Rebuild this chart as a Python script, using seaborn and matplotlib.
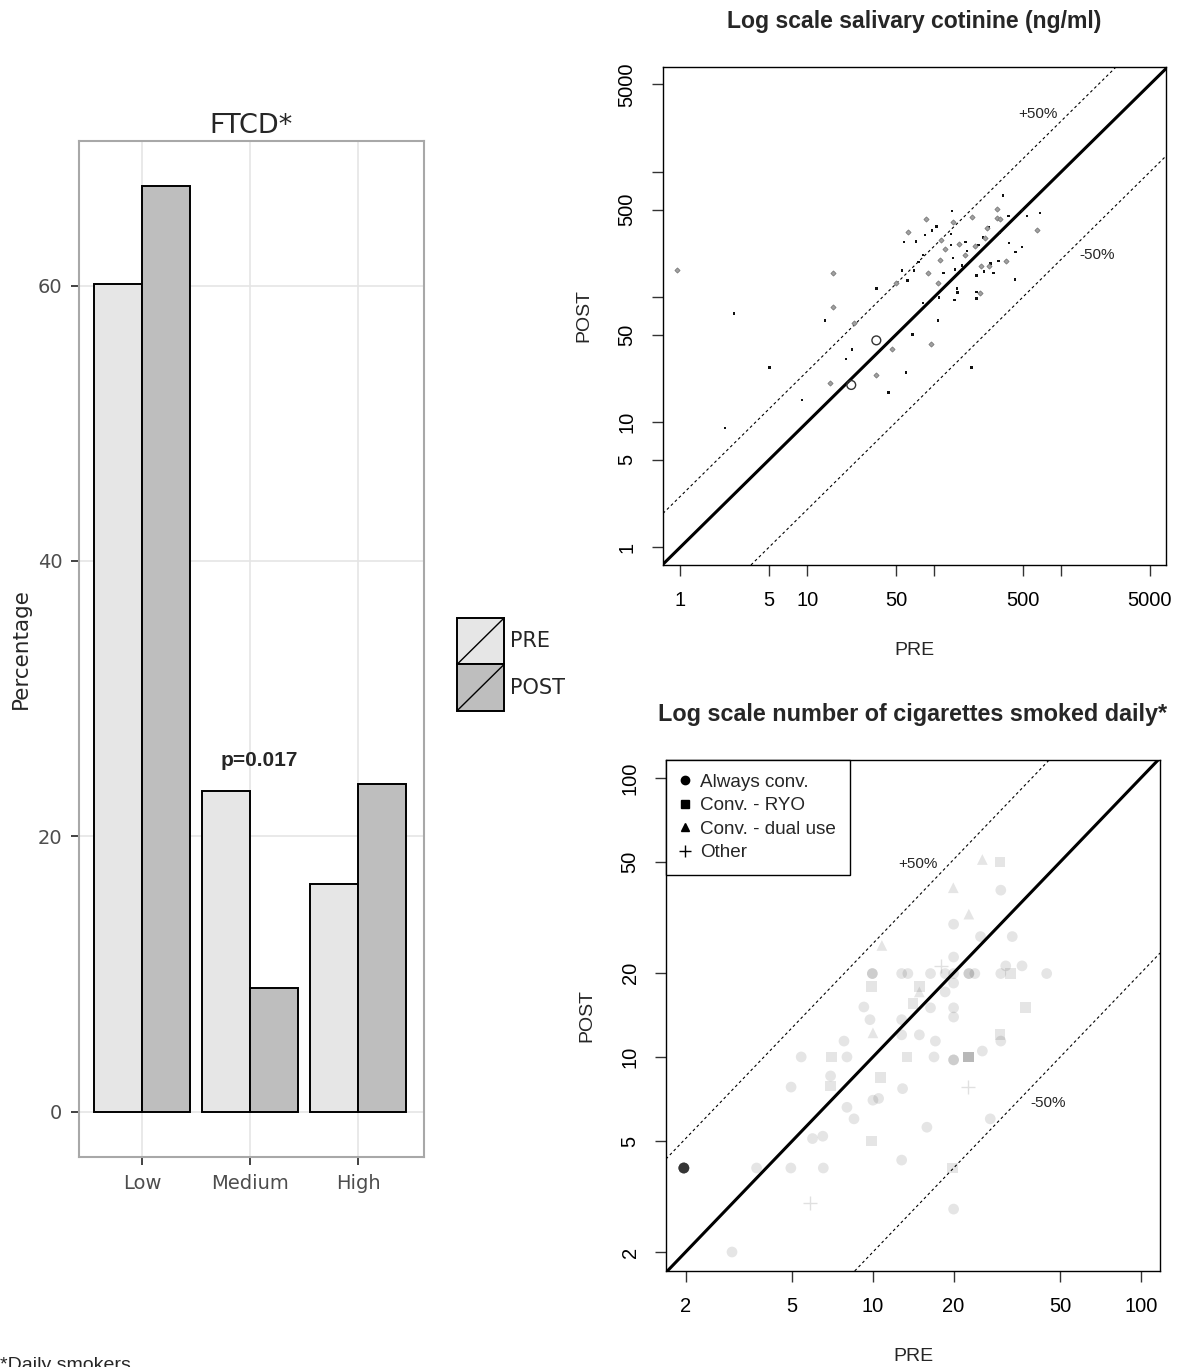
import matplotlib
matplotlib.use("Agg")
import matplotlib.pyplot as plt
import matplotlib.ticker as mticker
from matplotlib.patches import Rectangle
from matplotlib.lines import Line2D
from matplotlib.legend_handler import HandlerBase
import seaborn as sns
import pandas as pd

# ---------------- data ----------------
levels = ["Low", "Medium", "High"]
pre_pct = [60.1, 23.3, 16.5]
post_pct = [67.2, 9.0, 23.8]
p_label = "p=0.017"

# salivary cotinine (ng/ml)
cot_pre = [0.94, 2.66, 5.05, 9.1, 2.26, 16, 16, 13.8, 15, 22.2, 35, 20.2, 22.6, 35, 35,
           43.7, 46.6, 60, 67.5, 93.6, 107, 196, 82, 107, 90, 61.5, 69, 56, 50, 75,
           82, 112, 118, 122, 135, 140, 146, 152, 153, 145, 109, 166, 158, 175, 176,
           182, 210, 223, 252, 241, 259, 270, 234, 268, 278, 247, 215, 215, 229, 215,
           293, 322, 370, 433, 390, 437, 493, 311, 311, 331, 347, 386, 330, 490, 536,
           684, 649, 200, 138, 141, 104, 86, 96, 61.6, 58, 71.5, 85, 113, 135, 23.2]
cot_post = [163, 74, 27.4, 15, 9, 155, 83.5, 65, 20.6, 19.8, 45, 31.8, 38, 117, 23.8,
            17.3, 38.4, 25, 50, 42, 65, 27.4, 90, 130, 155, 135, 163, 163, 129, 190,
            217, 198, 155, 240, 261, 204, 166, 117, 109, 95, 99, 178, 265, 217, 276,
            233, 257, 261, 298, 300, 357, 362, 177, 177, 185, 160, 149, 110, 108, 97,
            156, 195, 195, 138, 270, 230, 250, 506, 429, 420, 647, 445, 326, 491, 445,
            467, 344, 438, 487, 395, 365, 420, 341, 330, 275, 277, 314, 287, 318, 61.6]
cot_kind = ["d", ".", ".", ".", ".", "d", "d", ".", "d", "o", "o", ".", ".", ".", "d",
            ".", "d", ".", ".", "d", ".", ".", ".", "d", "d", ".", ".", ".", "d", ".",
            ".", "d", ".", "d", ".", ".", ".", ".", ".", ".", ".", ".", "d", "d", ".",
            ".", "d", ".", "d", ".", "d", ".", "d", "d", ".", ".", ".", ".", "d", ".",
            ".", ".", "d", ".", ".", ".", ".", "d", "d", "d", ".", ".", ".", ".", ".",
            ".", "d", "d", ".", "d", ".", "d", ".", "d", ".", ".", ".", "d", ".", "d"]

# cigarettes per day
cig_pre = [25.6, 29.8, 19.95, 30, 22.8, 20, 25.2, 33.1, 10.8, 18, 20, 31.3, 36,
           9.95, 12.8, 13.5, 16.4, 18.6, 20, 22.8, 24, 30, 32.7, 44.5,
           9.86, 14.9, 14.9, 18.6, 20, 14.1, 16.4, 20, 20, 37.2, 9.25, 9.75, 12.8,
           10, 12.8, 14.9, 17.1, 29.8, 30, 7.8, 5.4, 7.0, 8.0, 13.4, 16.9, 20, 22.8,
           25.6, 6.95, 6.95, 10.7, 4.95, 12.9, 22.7, 8, 10, 10.5, 8.5, 15.9, 27.4,
           5.95, 6.5, 9.9, 3.68, 4.94, 6.53, 12.8, 19.8, 5.82, 20, 1.97, 2.98]
cig_post = [51, 50, 40.4, 39.6, 32.5, 29.9, 27, 27, 25.1, 21.2, 22.8, 21.2, 21.2,
            19.9, 19.9, 19.9, 19.9, 19.9, 19.9, 19.9, 19.9, 19.9, 19.9, 19.9,
            17.9, 17.9, 17.1, 17.1, 18.4, 15.5, 15, 15, 13.9, 15, 15.1, 13.6, 13.6,
            12.2, 12, 12, 11.4, 12, 11.4, 11.4, 10, 10, 10, 10, 10, 9.76, 10,
            10.5, 8.55, 7.87, 8.46, 7.8, 7.7, 7.8, 6.6, 7.0, 7.1, 6.0, 5.6, 6.0,
            5.1, 5.2, 5.0, 4.0, 4.0, 4.0, 4.27, 4.0, 3.0, 2.85, 4.0, 2.0]
cig_group = ["Conv. - dual use", "Conv. - RYO", "Conv. - dual use", "Always conv.", "Conv. - dual use",
             "Always conv.", "Always conv.", "Always conv.", "Conv. - dual use", "Other",
             "Always conv.", "Always conv.", "Always conv.",
             "Always conv.", "Always conv.", "Always conv.", "Always conv.", "Always conv.",
             "Always conv.", "Always conv.", "Always conv.", "Always conv.", "Conv. - RYO", "Always conv.",
             "Conv. - RYO", "Conv. - RYO", "Conv. - dual use", "Always conv.", "Always conv.",
             "Conv. - RYO", "Always conv.", "Always conv.", "Always conv.", "Conv. - RYO",
             "Always conv.", "Always conv.", "Always conv.",
             "Conv. - dual use", "Always conv.", "Always conv.", "Always conv.", "Conv. - RYO",
             "Always conv.", "Always conv.", "Always conv.", "Conv. - RYO", "Always conv.",
             "Conv. - RYO", "Always conv.", "Always conv.", "Conv. - RYO",
             "Always conv.", "Always conv.", "Conv. - RYO", "Conv. - RYO", "Always conv.",
             "Always conv.", "Other", "Always conv.", "Always conv.", "Always conv.",
             "Always conv.", "Always conv.", "Always conv.",
             "Always conv.", "Always conv.", "Conv. - RYO", "Always conv.", "Always conv.",
             "Always conv.", "Always conv.", "Conv. - RYO", "Other", "Always conv.",
             "Always conv.", "Always conv."]
cig_n = [1] * len(cig_pre)
cig_n[13] = 2
cig_n[19] = 2
cig_n[49] = 2
cig_n[50] = 3
cig_n[74] = 14

group_order = ["Always conv.", "Conv. - RYO", "Conv. - dual use", "Other"]
group_markers = {"Always conv.": "o", "Conv. - RYO": "s", "Conv. - dual use": "^", "Other": "+"}

upper_factor = 2.55   # dashed reference lines drawn in the original
lower_factor = 0.2

cot_ticks = [1, 5, 10, 50, 100, 500, 1000, 5000]
cot_ticklabels = ["1", "5", "10", "50", "", "500", "", "5000"]
cig_ticks = [2, 5, 10, 20, 50, 100]
cig_ticklabels = ["2", "5", "10", "20", "50", "100"]

# ---------------- style ----------------
sns.set_theme(style="white")
plt.rcParams["font.family"] = ["Liberation Sans", "DejaVu Sans"]

W, H = 1184, 1367
fig = plt.figure(figsize=(W / 100, H / 100), dpi=100)


def fax(x0, y0, x1, y1):
    return fig.add_axes([x0 / W, 1 - y1 / H, (x1 - x0) / W, (y1 - y0) / H])


# ---------------- left: bar chart ----------------
bars_df = pd.DataFrame({
    "level": levels * 2,
    "time": ["PRE"] * 3 + ["POST"] * 3,
    "pct": pre_pct + post_pct,
})
bar_colors = {"PRE": "#E6E6E6", "POST": "#BEBEBE"}

ax1 = fax(79, 141, 424, 1157)
sns.barplot(data=bars_df, x="level", y="pct", hue="time", hue_order=["PRE", "POST"],
            order=levels, palette=bar_colors, saturation=1, edgecolor="black",
            linewidth=1.4, width=0.89, gap=0, ax=ax1, legend=False, errorbar=None)
ax1.set_xlim(-0.585, 2.61)
ax1.set_ylim(-3.3, 70.5)
ax1.set_yticks([0, 20, 40, 60])
ax1.grid(True, color="#E5E5E5", linewidth=1.2)
ax1.set_axisbelow(True)
for s in ax1.spines.values():
    s.set_color("#A8A8A8")
    s.set_linewidth(1.5)
ax1.tick_params(axis="both", which="major", direction="out", length=6, width=1.3,
                color="#333333", labelcolor="#4D4D4D", labelsize=14, pad=6,
                left=True, bottom=True)
for lab in ax1.get_xticklabels() + ax1.get_yticklabels():
    lab.set_fontfamily("DejaVu Sans")
ax1.set_xlabel("")
ax1.set_ylabel("Percentage", fontsize=15.5, family="DejaVu Sans", labelpad=5)
ax1.set_title("FTCD*", fontsize=19.5, family="DejaVu Sans", pad=6)
ax1.text(1.08, 25.5, p_label, ha="center", va="center", fontsize=15, fontweight="bold")


class SlashHandler(HandlerBase):
    def create_artists(self, legend, orig_handle, xdescent, ydescent, width, height,
                       fontsize, trans):
        r = Rectangle((-xdescent, -ydescent), width, height,
                      facecolor=orig_handle.get_facecolor(), edgecolor="black",
                      linewidth=1.4, transform=trans)
        ln = Line2D([-xdescent, -xdescent + width], [-ydescent, -ydescent + height],
                    color="black", linewidth=1.0, transform=trans)
        return [r, ln]


leg_handles = [Rectangle((0, 0), 1, 1, facecolor=bar_colors[t]) for t in ["PRE", "POST"]]
fs_leg = 15
fig.legend(leg_handles, ["PRE", "POST"], loc="upper left",
           bbox_to_anchor=(457 / W, 1 - 618 / H), frameon=False,
           prop={"family": "DejaVu Sans", "size": fs_leg},
           handler_map={Rectangle: SlashHandler()},
           handlelength=2.26, handleheight=3.05,
           labelspacing=0.0, borderpad=0, borderaxespad=0, handletextpad=0.3)

# ---------------- common for log plots ----------------


def style_log(ax, ticks, labels):
    ax.set_xscale("log")
    ax.set_yscale("log")
    ax.set_xticks(ticks)
    ax.set_xticklabels(labels)
    ax.set_yticks(ticks)
    ax.set_yticklabels(labels)
    ax.xaxis.set_minor_locator(mticker.NullLocator())
    ax.yaxis.set_minor_locator(mticker.NullLocator())
    for s in ax.spines.values():
        s.set_color("black")
        s.set_linewidth(1.0)
    ax.tick_params(axis="both", direction="out", length=8, width=1.0, color="#333333",
                   labelsize=14.5, labelcolor="black", left=True, bottom=True)
    ax.tick_params(axis="x", pad=11)
    ax.tick_params(axis="y", pad=11)
    for lab in ax.get_yticklabels():
        lab.set_rotation(90)
        lab.set_va("center")
    ax.grid(False)
    ax.set_xlabel("PRE", fontsize=14, labelpad=23)
    ax.set_ylabel("POST", fontsize=14, labelpad=18)


def ref_lines(ax):
    ax.axline((1, 1), (10, 10), color="black", linewidth=2.2, zorder=3)
    ax.axline((1, upper_factor), (10, 10 * upper_factor), color="black", linewidth=0.8,
              linestyle=(0, (2.5, 2.5)), zorder=3)
    ax.axline((1, lower_factor), (10, 10 * lower_factor), color="black", linewidth=0.8,
              linestyle=(0, (2.5, 2.5)), zorder=3)


# ---------------- top right: cotinine ----------------
cot_df = pd.DataFrame({"pre": cot_pre, "post": cot_post, "kind": cot_kind})
ax2 = fax(663, 67, 1166, 565)
style_log(ax2, cot_ticks, cot_ticklabels)
ref_lines(ax2)
sns.scatterplot(data=cot_df[cot_df.kind == "."], x="pre", y="post", ax=ax2, marker="s",
                s=3, color="#111111", edgecolor="none", zorder=4)
sns.scatterplot(data=cot_df[cot_df.kind == "d"], x="pre", y="post", ax=ax2, marker="D",
                s=7, color="#A0A0A0", edgecolor="#707070", linewidth=0.5, zorder=4)
sns.scatterplot(data=cot_df[cot_df.kind == "o"], x="pre", y="post", ax=ax2, marker="o",
                s=40, facecolor="none", edgecolor="#333333", linewidth=1.0, zorder=4)
ax2.set_xlim(0.73, 6700)
ax2.set_ylim(0.72, 6900)
style_log(ax2, cot_ticks, cot_ticklabels)
ax2.set_title("Log scale salivary cotinine (ng/ml)", fontsize=16.6, fontweight="bold", pad=28)
ax2.text(660, 2911, "+50%", ha="center", va="center", fontsize=11)
ax2.text(1929, 217, "-50%", ha="center", va="center", fontsize=11)

# ---------------- bottom right: cigarettes ----------------
cig_df = pd.DataFrame({"pre": cig_pre, "post": cig_post, "group": cig_group, "n": cig_n})
cig_long = cig_df.loc[cig_df.index.repeat(cig_df["n"])].reset_index(drop=True)
ax3 = fax(666, 760, 1160, 1271)
ref_lines(ax3)
for g in group_order:
    sub = cig_long[cig_long.group == g]
    if g == "Other":
        sns.scatterplot(data=sub, x="pre", y="post", ax=ax3, marker="+", s=110,
                        color="black", alpha=0.12, linewidth=1.0, zorder=2)
    else:
        sns.scatterplot(data=sub, x="pre", y="post", ax=ax3, marker=group_markers[g],
                        s=60, color="black", alpha=0.1, edgecolor="none", zorder=2)
ax3.set_xlim(1.69, 117.8)
ax3.set_ylim(1.71, 115.9)
style_log(ax3, cig_ticks, cig_ticklabels)
ax3.set_title("Log scale number of cigarettes smoked daily*", fontsize=16.8,
              fontweight="bold", pad=28)
ax3.text(14.7, 49.2, "+50%", ha="center", va="center", fontsize=11)
ax3.text(45, 6.84, "-50%", ha="center", va="center", fontsize=11)

leg3_handles = [Line2D([], [], linestyle="none", marker=group_markers[g], color="black",
                       markersize=6 if g != "Other" else 9, markeredgewidth=1.0)
                for g in group_order]
leg3 = ax3.legend(leg3_handles, group_order, loc="upper left", fontsize=13.6,
                  frameon=True, fancybox=False, edgecolor="black", framealpha=1,
                  borderaxespad=0, borderpad=0.72, labelspacing=0.33,
                  handlelength=0.6, handletextpad=0.5)
leg3.get_frame().set_linewidth(1.0)

# footnote
fig.text(0 / W, 1 - 1357 / H, "*Daily smokers", ha="left", va="top", fontsize=14)

fig.savefig("out.png", dpi=100)
